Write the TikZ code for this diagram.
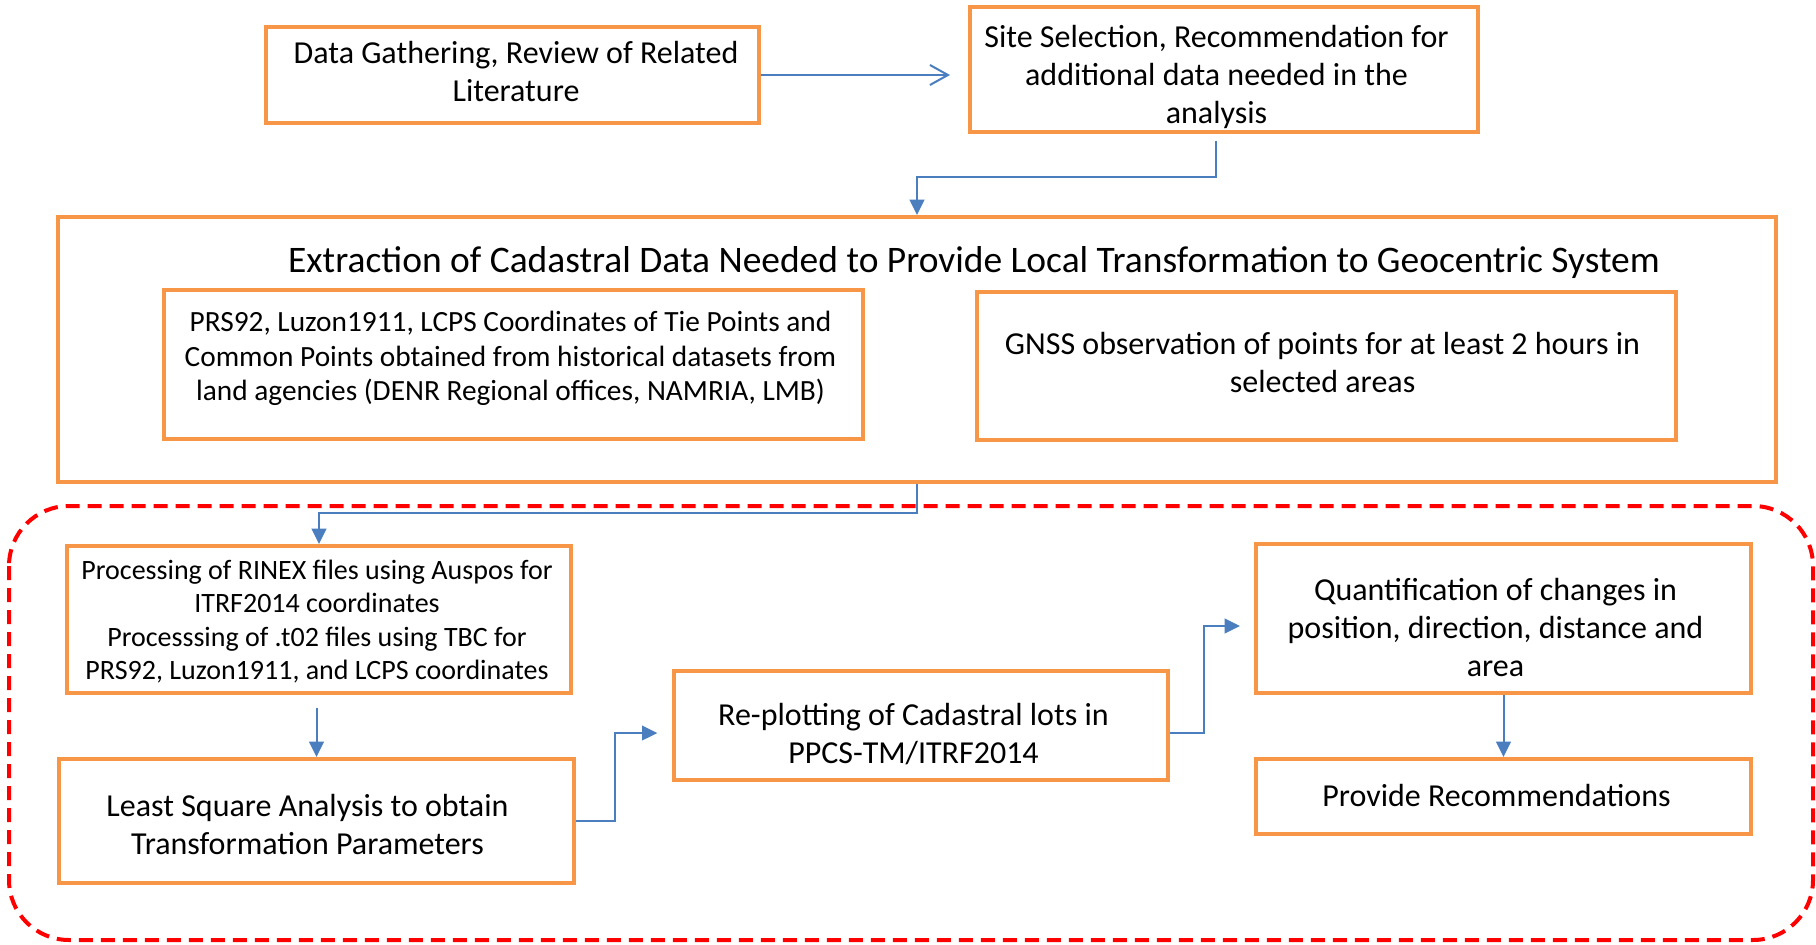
\documentclass[tikz,border=0pt]{standalone}
\usepackage{fontspec}
\setmainfont{Carlito}
\usetikzlibrary{arrows.meta,calc}

\definecolor{boxorange}{RGB}{247,150,70}
\definecolor{flowblue}{RGB}{74,126,190}
\definecolor{dashred}{RGB}{255,0,0}

\tikzset{every picture/.style={line width=0.75pt}}
\tikzset{
  sized/.style 2 args={minimum width=#1*0.75pt, minimum height=#2*0.75pt},
  stage/.style={draw=boxorange, line width=3pt, fill=white, inner sep=0pt},
  stagetext/.style={align=center, inner sep=0pt, font=\fontsize{24}{28.5}\selectfont},
  smalltext/.style={font=\fontsize{21}{25.2}\selectfont},
  midtext/.style={font=\fontsize{22}{26}\selectfont},
  headtext/.style={inner sep=0pt, font=\fontsize{28.1}{33}\selectfont},
  flow/.style={draw=flowblue, line width=1.5pt, -{Triangle[length=11.5pt,width=11pt]}},
  openflow/.style={draw=flowblue, line width=1.5pt, -{Straight Barb[length=13.5pt,width=15pt]}},
  region/.style={draw=dashred, line width=3pt, dash pattern={on 10.5pt off 6pt}, rounded corners=45pt},
}

\begin{document}
\begin{tikzpicture}[x=0.75pt,y=0.75pt,yscale=-1,xscale=1]
\useasboundingbox (0,0) rectangle (1816,945);

%Shape: Dashed region [id:processing]
\draw [region] (9,506) rectangle (1813,940) ;

% Top row
\node [stage, sized={493}{96}] (gather) at (512,75) {};
\node [stagetext] (gathertxt) at ($(gather)+(4,-3.5)$) {Data Gathering, Review of Related\\Literature};
\node [stage, sized={508}{125}] (site) at (1224,69.5) {};
\node [stagetext] (sitetxt) at ($(site)+(-7.5,7)$) {Site Selection, Recommendation for\\additional data needed in the\\analysis};

% Extraction block
\node [stage, sized={1718}{265}] (extract) at (917,349.5) {};
\node [headtext] (extitle) at (974,263) {Extraction of Cadastral Data Needed to Provide Local Transformation to Geocentric System};
\node [stage, sized={699}{149}] (tiepts) at (513.5,364.5) {};
\node [stagetext, midtext] (tieptstxt) at ($(tiepts)+(-3,-6)$) {PRS92, Luzon1911, LCPS Coordinates of Tie Points and\\Common Points obtained from historical datasets from\\land agencies (DENR Regional offices, NAMRIA, LMB)};
\node [stage, sized={699}{148}] (gnss) at (1326.5,366) {};
\node [stagetext] (gnsstxt) at ($(gnss)+(-4,-3.5)$) {GNSS observation of points for at least 2 hours in\\selected areas};

% Processing steps
\node [stage, sized={504}{147}] (rinex) at (319,619.5) {};
\node [stagetext, smalltext] (rinextxt) at ($(rinex)+(-2,2)$) {Processing of RINEX files using Auspos for\\ITRF2014 coordinates\\Processsing of .t02 files using TBC for\\PRS92, Luzon1911, and LCPS coordinates};
\node [stage, sized={515}{124}] (lsa) at (316.5,821) {};
\node [stagetext] (lsatxt) at ($(lsa)+(-9,3.5)$) {Least Square Analysis to obtain\\Transformation Parameters};
\node [stage, sized={494}{109}] (replot) at (921,725.5) {};
\node [stagetext] (replottxt) at ($(replot)+(-7.5,9)$) {Re-plotting of Cadastral lots in\\PPCS-TM/ITRF2014};
\node [stage, sized={495}{149}] (quant) at (1503.5,618.5) {};
\node [stagetext] (quanttxt) at ($(quant)+(-8,9)$) {Quantification of changes in\\position, direction, distance and\\area};
\node [stage, sized={495}{75}] (recom) at (1503.5,796.5) {};
\node [stagetext] (recomtxt) at ($(recom)+(-7,-1)$) {Provide Recommendations};

% Connectors
\draw [openflow, shorten >=13.5pt] (gather.east) -- (gather.east -| site.west) ;
\draw [flow] ($(site.south)+(-8,7)$) -- ++(0,36) -| (extract.north) ;
\draw [flow] (extract.south) -- ++(0,29) -| (rinex.north) ;
\draw [flow] ($(lsa.north |- rinex.south)+(0,13)$) -- (lsa.north) ;
\draw [flow, shorten >=11pt] (lsa.east) -- ++(39,0) |- ($(replot.west)+(0,7.5)$) ;
\draw [flow, shorten >=10.5pt] ($(replot.east)+(0,7.5)$) -- ++(34,0) |- ($(quant.west)+(0,7.5)$) ;
\draw [flow] (quant.south) -- (recom.north) ;

\end{tikzpicture}
\end{document}
